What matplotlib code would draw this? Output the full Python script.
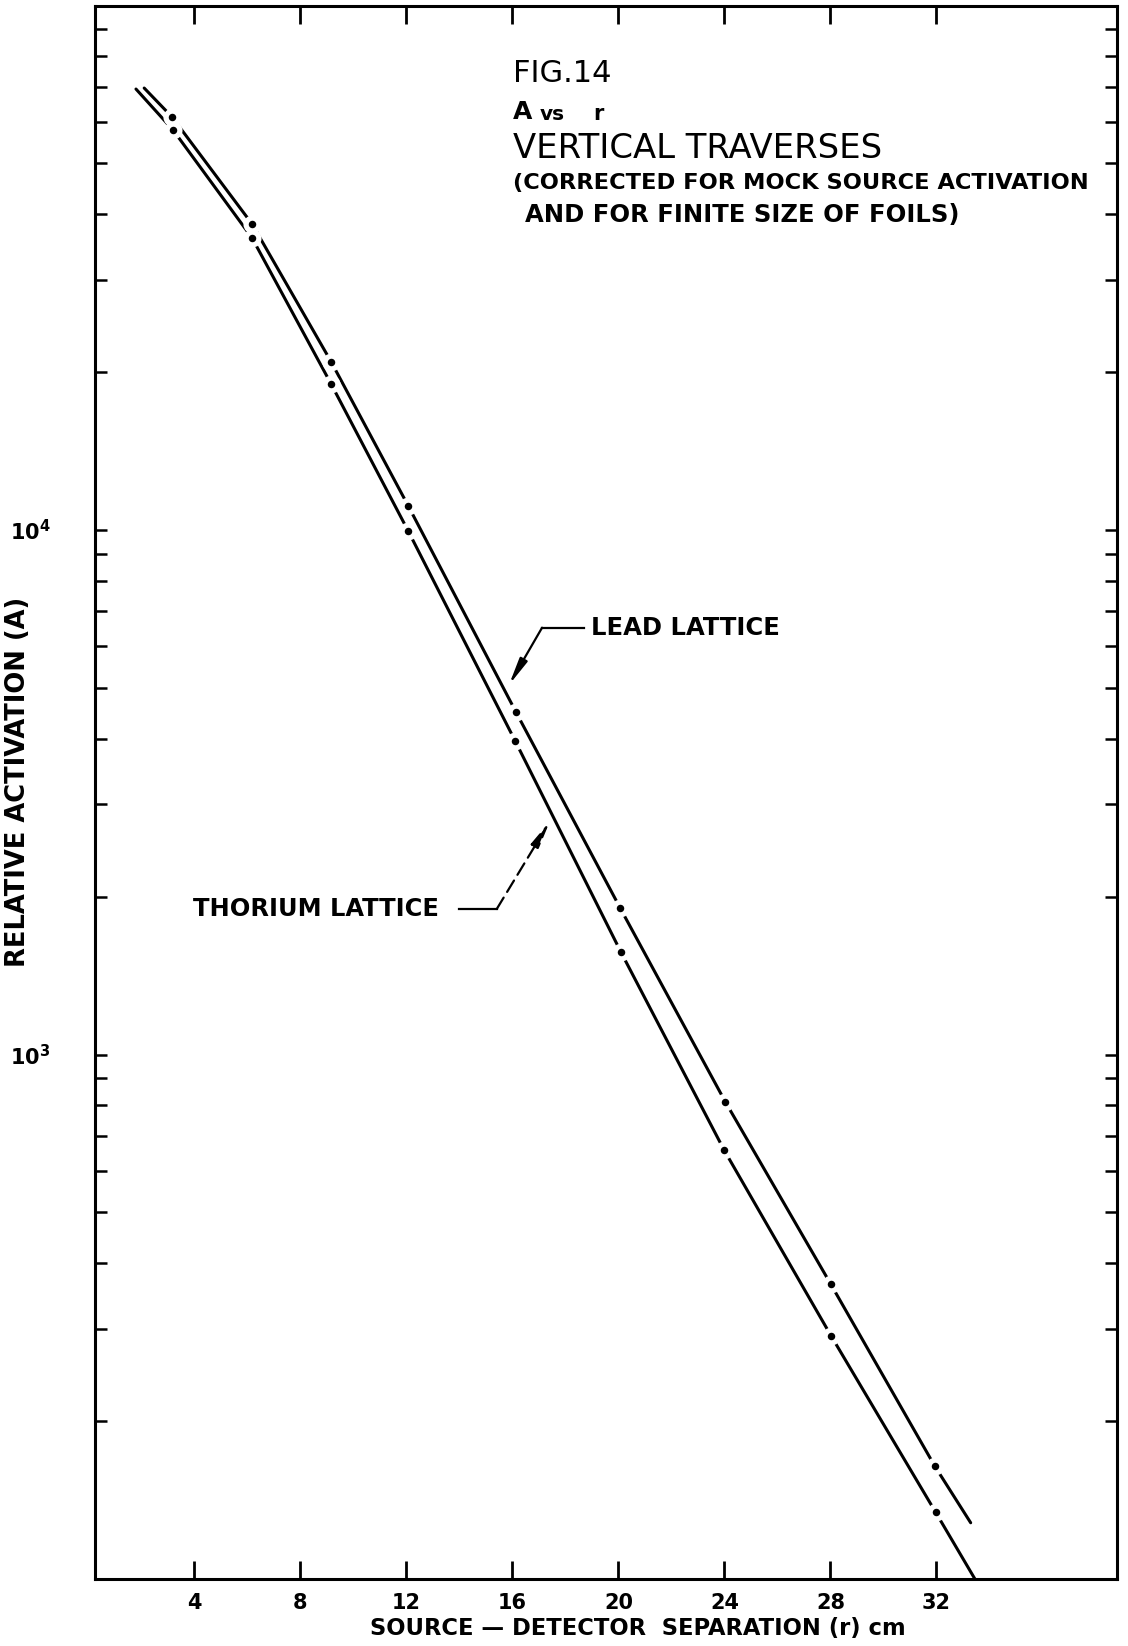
import matplotlib
matplotlib.use('Agg')  # no display in the sandbox
import matplotlib.pyplot as plt
from matplotlib.ticker import LogLocator, NullFormatter, FixedLocator, FixedFormatter

W, H = 1128, 1646

# measured points (r in cm, relative activation A)
lead_r = [3.16, 6.18, 9.16, 12.07, 16.14, 20.06, 24.03, 28.01, 31.94]
lead_a = [61300, 38320, 20940, 11120, 4492, 1905, 813, 365, 164]
thorium_r = [3.20, 6.18, 9.16, 12.07, 16.10, 20.10, 23.99, 28.02, 31.97]
thorium_a = [57880, 36040, 18990, 9956, 3966, 1566, 657, 291, 134]

# hand drawn curves (ends included)
lead_curve_r = [2.11, 3.16, 6.18, 7.61, 9.16, 12.07, 16.14, 20.06, 24.03, 28.01, 31.94, 33.29]
lead_curve_a = [69600, 61300, 38320, 28680, 20940, 11120, 4492, 1905, 813, 365, 164, 128]
thorium_curve_r = [1.80, 3.20, 6.18, 9.16, 12.07, 16.10, 20.10, 23.99, 28.02, 31.97, 33.45]
thorium_curve_a = [69300, 57880, 36040, 18990, 9956, 3966, 1566, 657, 291, 134, 100]

x_ticks = [4, 8, 12, 16, 20, 24, 28, 32]
y_major = [1e2, 1e3, 1e4, 1e5]
y_major_labels = ['', r'$\mathbf{10^{3}}$', r'$\mathbf{10^{4}}$', '']

title_lines = [
    ('FIG.14', 513, 73, 22, 'normal'),
    ('A', 513, 112, 18, 'bold'),
    ('vs', 540, 114, 14.5, 'bold'),
    ('r', 593, 114, 15, 'bold'),
    ('VERTICAL TRAVERSES', 513, 149, 24.4, 'normal'),
    ('(CORRECTED FOR MOCK SOURCE ACTIVATION', 513, 183, 16.2, 'bold'),
    ('AND FOR FINITE SIZE OF FOILS)', 525, 215, 17.5, 'bold'),
]


def fig_xy(x, y):
    # pixel position in the reference -> figure fraction
    return x / W, 1 - y / H


plt.rcParams['font.family'] = ['DejaVu Sans']
plt.rcParams['mathtext.fontset'] = 'dejavusans'

fig = plt.figure(figsize=(W / 100, H / 100), dpi=100, facecolor='white')
ax = fig.add_axes([95 / W, 1 - 1579 / H, (1117 - 95) / W, (1579 - 5.5) / H])

ax.set_yscale('log')
ax.set_xlim(0.254, 38.81)
ax.set_ylim(100, 1e5)

# curves, with white gaps round each point
ax.plot(lead_curve_r, lead_curve_a, color='black', lw=2.2, zorder=2, solid_capstyle='round')
ax.plot(thorium_curve_r, thorium_curve_a, color='black', lw=2.2, zorder=2, solid_capstyle='round')
for r, a in ((lead_r, lead_a), (thorium_r, thorium_a)):
    ax.plot(r, a, 'o', color='white', ms=13, mew=0, zorder=3, clip_on=False)
for r, a in ((lead_r, lead_a), (thorium_r, thorium_a)):
    ax.plot(r, a, 'o', color='black', ms=5.4, mew=0, zorder=4)

# frame and ticks
for s in ax.spines.values():
    s.set_linewidth(2.2)
ax.xaxis.set_major_locator(FixedLocator(x_ticks))
ax.set_xticklabels([str(t) for t in x_ticks])
ax.tick_params(axis='x', which='major', direction='in', length=13, width=2,
               top=True, bottom=True, labelsize=15, pad=10)
ax.yaxis.set_major_locator(FixedLocator(y_major))
ax.yaxis.set_major_formatter(FixedFormatter(y_major_labels))
ax.yaxis.set_minor_locator(LogLocator(base=10, subs=range(2, 10)))
ax.yaxis.set_minor_formatter(NullFormatter())
ax.tick_params(axis='y', which='both', direction='in', length=8.5, width=1.8,
               left=True, right=True, labelsize=15, pad=32)
for lab in ax.get_xticklabels():
    lab.set_fontweight('bold')

# leader lines and labels
ax.plot([18.69, 17.12], [6512, 6512], color='black', lw=1.6)
ax.annotate('', xy=(15.87, 5064), xytext=(17.12, 6512),
            arrowprops=dict(arrowstyle='-|>,head_length=1.6,head_width=0.25',
                            color='black', lw=1.6, shrinkA=0, shrinkB=0))
ax.text(18.97, 6512, 'LEAD LATTICE', ha='left', va='center', fontsize=17.5, fontweight='bold')

ax.plot([13.98, 15.41], [1894, 1894], color='black', lw=1.6)
ax.annotate('', xy=(17.42, 2787), xytext=(15.41, 1894),
            arrowprops=dict(arrowstyle='-|>,head_length=1.6,head_width=0.25',
                            color='black', lw=1.6, shrinkA=0, shrinkB=0, linestyle=(0, (6, 3))))
ax.text(13.23, 1894, 'THORIUM LATTICE', ha='right', va='center', fontsize=17.4, fontweight='bold')

# title block
for txt, x, y, size, weight in title_lines:
    fx, fy = fig_xy(x, y)
    fig.text(fx, fy, txt, ha='left', va='center', fontsize=size, fontweight=weight)

# axis labels
fx, fy = fig_xy(638, 1629)
fig.text(fx, fy, 'SOURCE — DETECTOR  SEPARATION (r) cm', ha='center', va='center',
         fontsize=16.3, fontweight='bold')
fx, fy = fig_xy(18, 782)
fig.text(fx, fy, 'RELATIVE ACTIVATION (A)', ha='center', va='center', rotation=90,
         fontsize=18.5, fontweight='bold')

fig.savefig('out.png', dpi=100, facecolor='white')
plt.close(fig)
